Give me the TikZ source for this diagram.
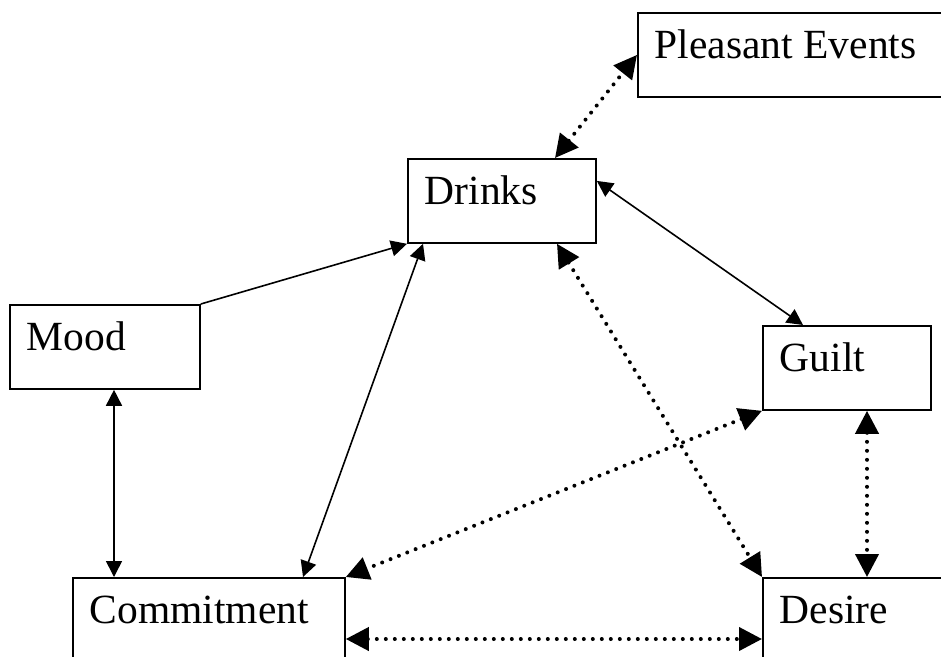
\documentclass[tikz,border=0pt]{standalone}
\usepackage{fontspec}
\setmainfont{Liberation Serif}
\usetikzlibrary{arrows.meta}
\tikzset{
  box/.style={draw, line width=1.8pt, anchor=north west, inner xsep=17pt, inner ysep=0pt,
    text height=46pt, text depth=38pt, align=flush left,
    font=\fontsize{41.5}{48}\selectfont},
  solidlink/.style={line width=1.6pt, {Triangle[length=16pt,width=16pt]}-{Triangle[length=16pt,width=16pt]}},
  solidone/.style={line width=1.6pt, -{Triangle[length=16pt,width=16pt]}},
  dotlink/.style={line width=4pt, line cap=round, dash pattern=on 0pt off 9pt,
    {Triangle[length=23pt,width=23pt]}-{Triangle[length=23pt,width=23pt]}}
}
\begin{document}
\begin{tikzpicture}[x=1pt,y=-1pt]
\useasboundingbox (0,0) rectangle (941,656);
\fill[white] (0,0) rectangle (941,656);
\clip (0,0) rectangle (941,656);
\node[box, text width=296pt] (pe) at (637,12) {Pleasant Events};
\node[box, text width=154pt] (drinks) at (407,158) {Drinks};
\node[box, text width=156pt] (mood) at (9,304) {Mood};
\node[box, text width=134pt] (guilt) at (762,325) {Guilt};
\node[box, text width=238pt] (commit) at (72,577) {Commitment};
\node[box, text width=196pt] (desire) at (762,577) {Desire};
% connectors
\draw[dotlink] ([xshift=148pt]drinks.north west) -- (pe.west);
\draw[solidlink] ([yshift=20pt]drinks.east) -- ([xshift=41pt]guilt.north west);
\draw[solidone] (mood.north east) -- (drinks.south west);
\draw[solidlink] ([xshift=16pt]drinks.south west) -- ([xshift=231pt]commit.north west);
\coordinate (mc) at ([xshift=105pt]mood.south west);
\draw[solidlink] (mc) -- (mc |- commit.north);
\draw[dotlink] ([xshift=150pt]drinks.south west) -- (desire.north west);
\draw[dotlink] (guilt.south west) -- (commit.north east);
\coordinate (gd) at ([xshift=105pt]guilt.south west);
\draw[dotlink] (gd) -- (gd |- desire.north);
\coordinate (cd) at ([yshift=-62pt]commit.north east);
\draw[dotlink] (cd) -- (cd -| desire.west);
\end{tikzpicture}
\end{document}
